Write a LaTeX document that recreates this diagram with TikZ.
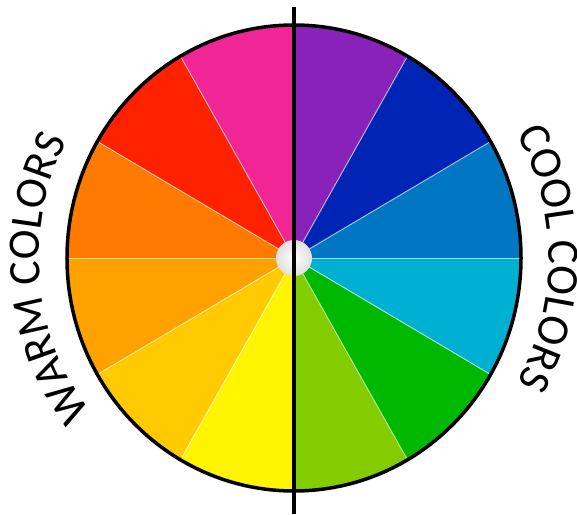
\documentclass[tikz,border=0pt]{standalone}
\usepackage{fontspec}
\newfontfamily\wheelfont{Carlito}
\usepackage{tikz}
\usetikzlibrary{decorations.text}

\definecolor{seg0}{RGB}{0,119,192}
\definecolor{seg1}{RGB}{0,36,180}
\definecolor{seg2}{RGB}{136,34,184}
\definecolor{seg3}{RGB}{240,38,150}
\definecolor{seg4}{RGB}{255,34,0}
\definecolor{seg5}{RGB}{255,122,0}
\definecolor{seg6}{RGB}{255,162,0}
\definecolor{seg7}{RGB}{255,202,0}
\definecolor{seg8}{RGB}{255,245,0}
\definecolor{seg9}{RGB}{130,204,0}
\definecolor{seg10}{RGB}{0,184,0}
\definecolor{seg11}{RGB}{0,176,210}

\begin{document}
\begin{tikzpicture}[x=1pt,y=1pt]
\useasboundingbox (-294,-256) rectangle (283,258);
% wedges of the wheel
\foreach \a/\c in {0/seg0,30/seg1,60/seg2,90/seg3,120/seg4,150/seg5,
                   180/seg6,210/seg7,240/seg8,270/seg9,300/seg10,330/seg11}
  \fill[\c] (0,0) -- (\a:227 and 233)
    arc[start angle=\a,end angle=\a+30,x radius=227,y radius=233] -- cycle;
\foreach \a in {0,30,...,330}
  \draw[white,opacity=0.6,line width=1] (0,0) -- (\a:227 and 233);
\draw[line width=3.5] (0,0) ellipse[x radius=227,y radius=233];
\shade[inner color=white,outer color=gray!25] (0,0) circle[radius=18];
\draw[line width=4] (0,251) -- (0,-256);
% labels
\path[decorate,decoration={text along path,text align=center,
  text={|\wheelfont\fontsize{45}{50}\selectfont|WARM COLORS}}]
  (217:255) arc[start angle=217,end angle=153,radius=255];
\path[decorate,decoration={text along path,text align=center,
  text={|\wheelfont\fontsize{45}{50}\selectfont|COOL COLORS}}]
  (31:255) arc[start angle=31,end angle=-31,radius=255];
\end{tikzpicture}
\end{document}
